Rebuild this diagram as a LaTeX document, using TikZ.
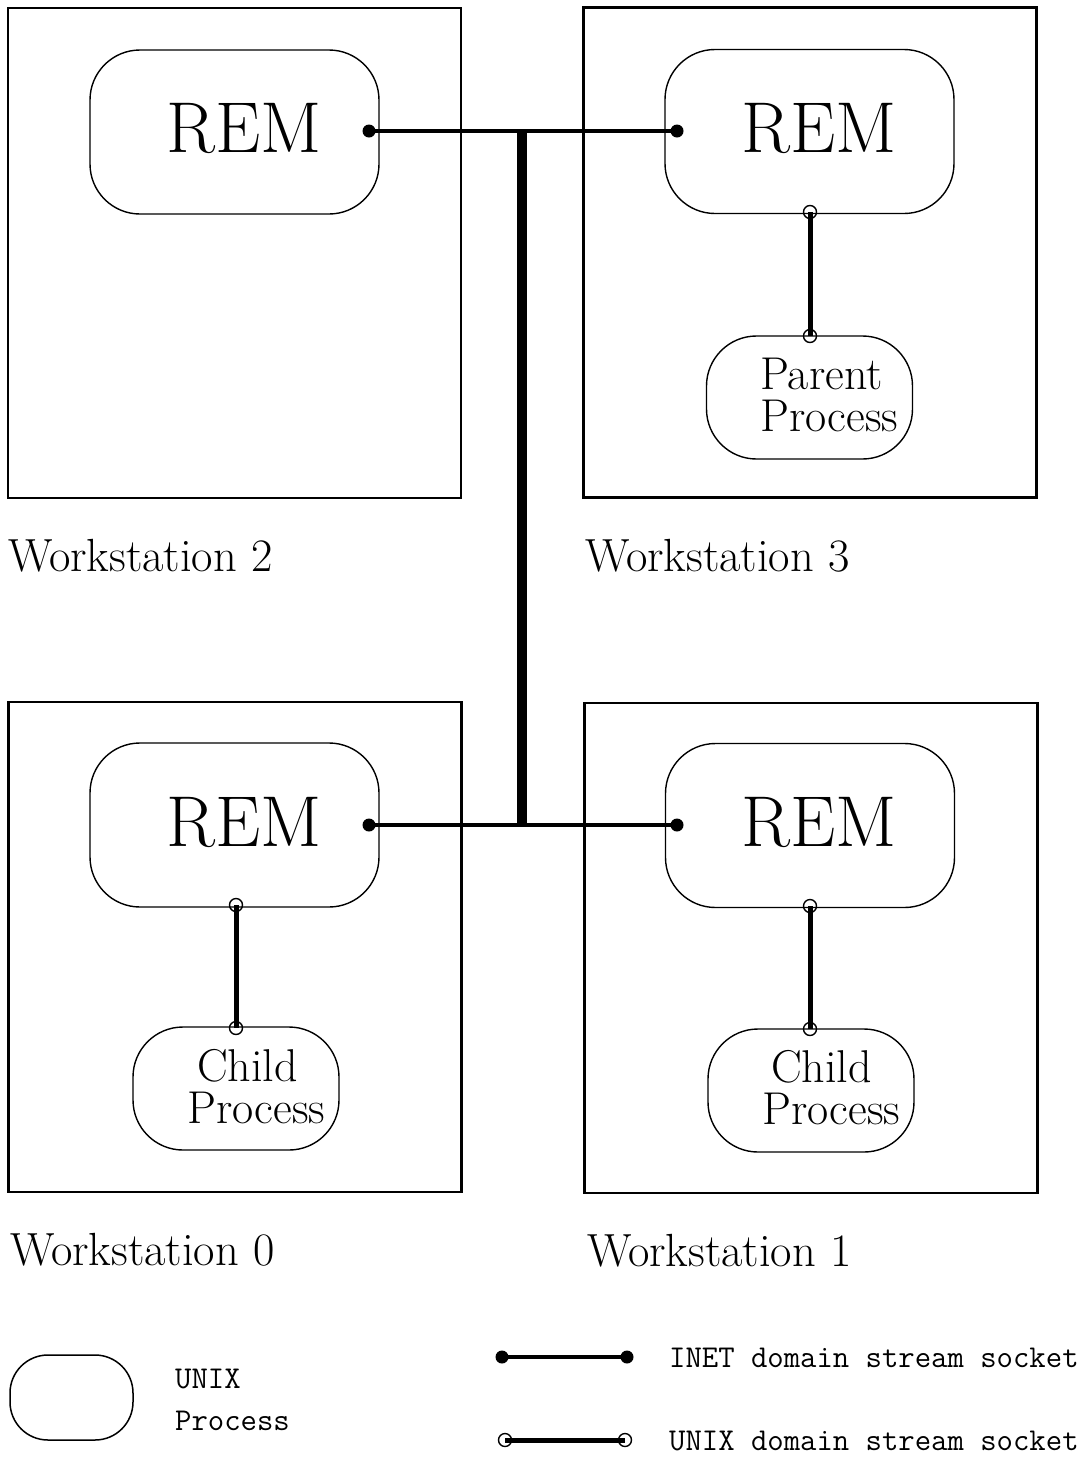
\documentclass[tikz,border=0pt]{standalone}
\usepackage{fontspec}
\newcommand\remfont{\fontsize{72}{72}\selectfont}
\newcommand\wsfont{\fontsize{46.5}{46.5}\selectfont}
\newcommand\prfont{\fontsize{46}{41}\selectfont}
\newcommand\lgfont{\fontsize{31.8}{31.8}\selectfont\ttfamily}
\begin{document}
\begin{tikzpicture}[x=1pt,y=-1pt,
  wsbox/.style={draw,line width=2.8pt,minimum width=453pt,minimum height=490pt,inner sep=0pt},
  procbox/.style={draw,line width=1.4pt,rounded corners=50pt,inner sep=0pt},
  remsize/.style={minimum width=289pt,minimum height=164pt},
  chsize/.style={minimum width=206pt,minimum height=123pt},
  txt/.style={inner sep=0pt,anchor=base west},
  topline/.style={text depth=0pt},
  botline/.style={text height=28pt},
  inet/.style={line width=4.5pt},
  bus/.style={line width=10pt},
  unixl/.style={line width=5pt},
  fdot/.style={fill,circle,inner sep=0pt,minimum size=13pt},
  odot/.style={draw,line width=1.4pt,circle,inner sep=0pt,minimum size=13pt}]
\useasboundingbox (0,0) rectangle (1083,1457);
% workstation boxes
\node[wsbox] (ws2) at (234.5,253) {};
\node[wsbox] (ws3) at (810,252.5) {};
\node[wsbox] (ws0) at (235,947) {};
\node[wsbox] (ws1) at (811,948) {};
% workstation labels
\node[txt,font=\wsfont] (l2) at (8,571) {Workstation 2};
\node[txt,font=\wsfont] (l3) at (585,571) {Workstation 3};
\node[txt,font=\wsfont] (l0) at (10,1265) {Workstation 0};
\node[txt,font=\wsfont] (l1) at (587,1266) {Workstation 1};
% REM boxes
\node[procbox,remsize] (rem2) at (234.5,132) {};
\node[procbox,remsize] (rem3) at (809.5,131.5) {};
\node[procbox,remsize] (rem0) at (234.5,825) {};
\node[procbox,remsize] (rem1) at (810,825.5) {};
\node[txt,font=\remfont] (t2) at (166,152) {REM};
\node[txt,font=\remfont] (t3) at (741,152) {REM};
\node[txt,font=\remfont] (t0) at (166,846) {REM};
\node[txt,font=\remfont] (t1) at (741,846) {REM};
% process boxes
\node[procbox,chsize] (par) at (809.5,397.5) {};
\node[procbox,chsize] (ch0) at (236,1088.5) {};
\node[procbox,chsize] (ch1) at (811,1090.5) {};
\node[txt,topline,font=\prfont] (pa1) at (760,389) {Parent};
\node[txt,botline,font=\prfont] (pa2) at (760,431.5) {Process};
\node[txt,topline,font=\prfont] (c01) at (197,1081) {Child};
\node[txt,botline,font=\prfont] (c02) at (187,1123) {Process};
\node[txt,topline,font=\prfont] (c11) at (771,1082) {Child};
\node[txt,botline,font=\prfont] (c12) at (762,1124) {Process};
% INET connections
\coordinate (e2) at (369,131);
\coordinate (e3) at (677,131);
\coordinate (e0) at (369,825);
\coordinate (e1) at (677,825);
\coordinate (jt) at (522,131);
\coordinate (jb) at (522,825);
\draw[bus] (jt) -- (jb);
\draw[inet] (e2) -- (e3);
\draw[inet] (e0) -- (e1);
\foreach \p in {e2,e3,e0,e1} \node[fdot] at (\p) {};
% UNIX connections
\coordinate (u3a) at (810,212);
\coordinate (u3b) at (810,336);
\coordinate (u0a) at (236,905);
\coordinate (u0b) at (236,1028);
\coordinate (u1a) at (810,906);
\coordinate (u1b) at (810,1029);
\draw[unixl] (u3a) -- (u3b);
\draw[unixl] (u0a) -- (u0b);
\draw[unixl] (u1a) -- (u1b);
\foreach \p in {u3a,u3b,u0a,u0b,u1a,u1b} \node[odot] at (\p) {};
% legend
\node[draw,line width=1.5pt,rounded corners=38pt,minimum width=123pt,minimum height=85pt] (lgbox) at (71.5,1397.5) {};
\node[txt,font=\lgfont] (lg1) at (175,1388) {UNIX};
\node[txt,font=\lgfont] (lg2) at (175,1430) {Process};
\coordinate (ia) at (502,1357);
\coordinate (ib) at (627,1357);
\draw[inet] (ia) -- (ib);
\node[fdot] at (ia) {};
\node[fdot] at (ib) {};
\node[txt,font=\lgfont] (lg3) at (669,1367) {INET domain stream socket};
\coordinate (ua) at (505,1440);
\coordinate (ub) at (625,1440);
\draw[unixl] (ua) -- (ub);
\node[odot] at (ua) {};
\node[odot] at (ub) {};
\node[txt,font=\lgfont] (lg4) at (669,1450) {UNIX domain stream socket};
\end{tikzpicture}
\end{document}
